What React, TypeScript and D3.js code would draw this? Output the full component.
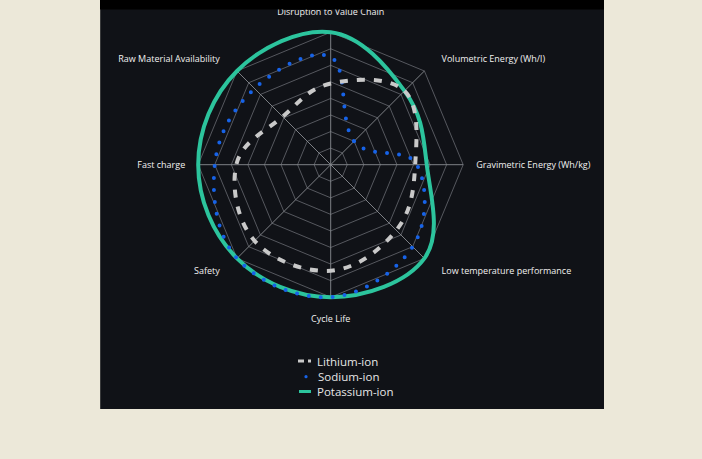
import React from "react";
import * as d3 from "d3";

const axes = [
  "Disruption to Value Chain",
  "Volumetric Energy (Wh/l)",
  "Gravimetric Energy (Wh/kg)",
  "Low temperature performance",
  "Cycle Life",
  "Safety",
  "Fast charge",
  "Raw Material Availability",
];
const lithium = [4.9, 6.3, 5.1, 5.6, 6.4, 6.5, 5.7, 4.1];
const sodium = [6.5, 2.0, 5.2, 7.0, 8, 8, 7, 6.5];
const potassium = [8, 6.3, 5.8, 8, 8, 8, 8, 8];
const ringLevels = [1, 2, 3, 4, 5, 6, 7, 8];
const seriesNames = ["Lithium-ion", "Sodium-ion", "Potassium-ion"];

const W = 702;
const H = 459;
const cx = 330.7;
const cy = 164.7;
const R = 132.5;

const COLORS = {
  lithium: "#c9c9c9",
  sodium: "#1763e8",
  potassium: "#2cc49d",
};

export default function App() {
  const r = d3.scaleLinear().domain([0, 8]).range([0, R]);
  const n = axes.length;
  const angle = (i: number) => (i * 2 * Math.PI) / n;

  const line = d3
    .lineRadial<number>()
    .angle((_, i) => angle(i))
    .radius((d) => r(d))
    .curve(d3.curveCardinalClosed.tension(-0.1));

  const ring = d3
    .lineRadial<number>()
    .angle((_, i) => angle(i))
    .radius((d) => r(d))
    .curve(d3.curveLinearClosed);

  const font = "'Open Sans', 'Noto Sans', sans-serif";

  const labels = axes.map((t, i) => {
    const a = angle(i);
    const sx = Math.sin(a);
    const sy = -Math.cos(a);
    const isDiag = Math.abs(sx) > 0.1 && Math.abs(sy) > 0.1;
    const isVert = Math.abs(sx) < 0.1;
    const x = cx + sx * (R + 13) + (isDiag ? Math.sign(sx) * 8 : 0);
    const y = cy + sy * (R + 17) + (isVert ? Math.sign(sy) * 4 : 0);
    const anchor = isVert ? "middle" : sx > 0 ? "start" : "end";
    return { t, x, y, anchor };
  });

  const legendY = [361, 376.7, 391.5];

  return (
    <div style={{ position: "fixed", left: 0, top: 0 }}>
      <svg width={W} height={H} style={{ display: "block" }}>
        <rect x={0} y={0} width={W} height={H} fill="#ece8d9" />
        <rect x={100} y={0} width={504} height={409} fill="#101217" />
        <line x1={100.5} y1={0} x2={100.5} y2={409} stroke="#3a3b3c" strokeWidth={1} />
        <g transform={`translate(${cx},${cy})`}>
          {ringLevels.map((lv) => (
            <path
              key={lv}
              d={ring(axes.map(() => lv)) || ""}
              fill="none"
              stroke="#5d6066"
              strokeWidth={0.9}
            />
          ))}
          {axes.map((_, i) => {
            const a = angle(i);
            return (
              <line
                key={i}
                x1={0}
                y1={0}
                x2={Math.sin(a) * R}
                y2={-Math.cos(a) * R}
                stroke="#8a8d92"
                strokeWidth={0.9}
              />
            );
          })}
          <path
            d={line(potassium) || ""}
            fill="none"
            stroke={COLORS.potassium}
            strokeWidth={4}
          />
          <path
            d={line(sodium) || ""}
            fill="none"
            stroke={COLORS.sodium}
            strokeWidth={4}
            strokeDasharray="0 12"
            strokeLinecap="round"
          />
          <path
            d={line(lithium) || ""}
            fill="none"
            stroke={COLORS.lithium}
            strokeWidth={4}
            strokeDasharray="8 9"
          />
        </g>
        {labels.map((l, i) => (
          <text
            key={i}
            x={l.x}
            y={l.y}
            textAnchor={l.anchor}
            dominantBaseline="central"
            fontFamily={font}
            fontSize={9}
            fontWeight={500}
            fill="#f0f0f0"
          >
            {l.t}
          </text>
        ))}
        <rect x={100} y={0} width={504} height={9.5} fill="#000000" />
        {/* legend */}
        <line x1={298} y1={legendY[0]} x2={311} y2={legendY[0]} stroke={COLORS.lithium} strokeWidth={3} strokeDasharray="6 4" />
        <circle cx={306} cy={legendY[1]} r={1.6} fill={COLORS.sodium} />
        <line x1={299} y1={legendY[2]} x2={311} y2={legendY[2]} stroke={COLORS.potassium} strokeWidth={3} />
        {seriesNames.map((s, i) => (
          <text
            key={s}
            x={i === 1 ? 318 : 317}
            y={legendY[i]}
            dominantBaseline="central"
            fontFamily={font}
            fontSize={11.5}
            fontWeight={500}
            fill="#e6e6e6"
          >
            {s}
          </text>
        ))}
      </svg>
    </div>
  );
}
